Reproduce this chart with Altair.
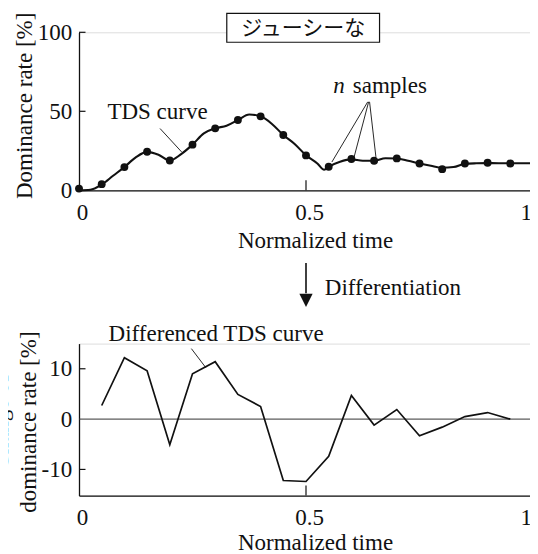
import altair as alt
import pandas as pd

# ---------------- data ----------------
sample_t = [0.00, 0.05, 0.10, 0.15, 0.20, 0.25, 0.30, 0.35, 0.40, 0.45,
            0.50, 0.55, 0.60, 0.65, 0.70, 0.75, 0.80, 0.85, 0.90, 0.95]
sample_rate = [1.1, 3.9, 14.7, 24.4, 18.9, 28.9, 39.2, 44.5, 46.8, 35.0,
               22.1, 14.9, 19.8, 18.7, 20.2, 17.0, 13.4, 17.0, 17.4, 17.0]

curve_t = [0.000, 0.025, 0.050, 0.075, 0.100, 0.125, 0.150, 0.175, 0.200, 0.225,
           0.250, 0.275, 0.300, 0.325, 0.350, 0.375, 0.400, 0.425, 0.450, 0.475,
           0.500, 0.525, 0.540, 0.550, 0.575, 0.600, 0.625, 0.650, 0.675, 0.700,
           0.725, 0.750, 0.775, 0.800, 0.825, 0.850, 0.875, 0.900, 0.950, 1.000]
curve_rate = [0.0, 0.3, 3.6, 9.2, 14.7, 20.8, 24.3, 22.5, 18.9, 22.9,
              28.9, 36.0, 39.2, 40.9, 44.5, 48.0, 46.8, 42.0, 35.0, 29.3,
              22.2, 17.0, 13.0, 14.9, 18.1, 19.6, 18.7, 18.7, 20.3, 20.1,
              18.7, 17.0, 15.5, 14.3, 14.7, 16.8, 17.1, 17.2, 17.1, 17.1]

diff_t = [0.05, 0.10, 0.15, 0.20, 0.25, 0.30, 0.35, 0.40, 0.45, 0.50,
          0.55, 0.60, 0.65, 0.70, 0.75, 0.80, 0.85, 0.90, 0.95]
diff_rate = [2.7, 12.2, 9.6, -5.1, 9.0, 11.4, 4.9, 2.5, -12.2, -12.4,
             -7.4, 4.7, -1.2, 1.9, -3.3, -1.6, 0.5, 1.3, 0.0]

x_tick_labels = [0, 0.5, 1]
x_inner_ticks = [0.5, 1]
top_y_labels = [0, 50, 100]
top_y_inner_ticks = [50, 100]
bottom_y_labels = [-10, 0, 10]
bottom_y_inner_ticks = [-10, 10]

panel_title = "ジューシーな"
x_title = "Normalized time"
top_y_title = "Dominance rate [%]"
bottom_y_title = ["Change of", "dominance rate [%]"]

# annotations (data coordinates)
tds_label = ["TDS curve"]
tds_label_x = [0.173]
tds_label_y = [49.4]
tds_leader_x = [0.1785]
tds_leader_y = [39.1]
tds_leader_x2 = [0.226]
tds_leader_y2 = [24.3]

n_label_x = [0.560]
samples_label_x = [0.603]
samples_label_y = [66.0]
samples_leader_x = [0.636, 0.638, 0.640]
samples_leader_y = [56.0, 56.0, 56.0]
samples_leader_x2 = [0.557, 0.606, 0.654]
samples_leader_y2 = [17.9, 21.1, 21.1]

box_x = [0.3255]
box_x2 = [0.662]
box_y = [93.7]
box_y2 = [112.0]
box_text_x = [0.494]
box_text_y = [102.0]

diff_label = ["Differenced TDS curve"]
diff_label_x = [0.302]
diff_label_y = [16.9]
diff_leader_x = [0.2475]
diff_leader_y = [14.0]
diff_leader_x2 = [0.2795]
diff_leader_y2 = [10.2]

arrow_x = [0.5]
arrow_y_start = [31.0]
arrow_y_end = [25.0]
arrow_head_y = [23.6]
arrow_label = ["Differentiation"]
arrow_label_x = [0.5415]
arrow_label_y = [26.0]

zero_x = [0.0]
zero_x2 = [1.0]
zero_y = [0.0]

# ---------------- style ----------------
W, H1, H2 = 454, 158, 152
SERIF = ("'Liberation Serif', 'Times New Roman', Times, 'Nimbus Roman', 'Noto Serif', "
         "'DejaVu Serif', FreeSerif, serif")
CJK = "'Noto Sans CJK JP', sans-serif"
INK = "#111111"
FS = 23

x_scale = alt.Scale(domain=[0, 1], nice=False, zero=False)
y1_scale = alt.Scale(domain=[0, 100], nice=False, zero=False)
y2_scale = alt.Scale(domain=[-15.2, 15.0], nice=False, zero=False)


def x_axis(title_y):
    return alt.Axis(
        values=x_tick_labels, format="~g", ticks=False, tickSize=0, grid=False,
        domainColor=INK, domainWidth=1.3,
        labelFont=SERIF, labelFontSize=FS, labelColor=INK, labelPadding=22.3,
        labelBaseline="middle", labelFlush=False, labelOverlap=False,
        labelAlign={"condition": {"test": "datum.value == 1", "value": "right"}, "value": "center"},
        labelOffset={"condition": {"test": "datum.value == 1", "value": -1.5}, "value": 3},
        title=x_title, titleFont=SERIF, titleFontSize=FS, titleFontWeight="normal",
        titleColor=INK, titleX=236, titleY=title_y, titleAlign="center", titleBaseline="middle",
    )


def y_axis(values, title, tx, ty):
    return alt.Axis(
        values=values, ticks=False, tickSize=0, grid=False,
        labelExpr="datum.value < 0 ? '-' + abs(datum.value) : '' + datum.value",
        domainColor=INK, domainWidth=1.3,
        labelFont=SERIF, labelFontSize=FS, labelColor=INK, labelPadding=7.3,
        labelBaseline="middle", labelAlign="right", labelFlush=False, labelOverlap=False,
        title=title, titleFont=SERIF, titleFontSize=FS, titleFontWeight="normal",
        titleColor=INK, titleX=tx, titleY=ty, titleAlign="center", titleBaseline="middle",
        titleAngle=270, titleLineHeight=28,
    )


X1 = alt.X("x:Q", scale=x_scale, axis=x_axis(50))
Y1 = alt.Y("y:Q", scale=y1_scale, axis=y_axis(top_y_labels, top_y_title, -55, 73))
X2 = alt.X("x:Q", scale=x_scale, axis=x_axis(47))
Y2 = alt.Y("y:Q", scale=y2_scale, axis=y_axis(bottom_y_labels, bottom_y_title, -78.3, 78))

# ---------------- top panel ----------------
curve = alt.Chart(pd.DataFrame({"x": curve_t, "y": curve_rate})).mark_line(
    color=INK, strokeWidth=2.1, interpolate="monotone").encode(x=X1, y=Y1)
points = alt.Chart(pd.DataFrame({"x": sample_t, "y": sample_rate})).mark_circle(
    color=INK, size=62, opacity=1).encode(x=X1, y=Y1)
top_xt = alt.Chart(pd.DataFrame({"x": x_inner_ticks})).mark_rule(
    color=INK, strokeWidth=1.2).encode(x=X1, y=alt.value(H1), y2=alt.value(H1 - 10))
top_yt = alt.Chart(pd.DataFrame({"y": top_y_inner_ticks})).mark_rule(
    color=INK, strokeWidth=1.2).encode(y=Y1, x=alt.value(0), x2=alt.value(6.5))

tds_text = alt.Chart(pd.DataFrame({"x": tds_label_x, "y": tds_label_y, "t": tds_label})).mark_text(
    font=SERIF, fontSize=FS, color=INK, align="center", baseline="middle").encode(x=X1, y=Y1, text="t:N")
tds_lead = alt.Chart(pd.DataFrame({"x": tds_leader_x, "y": tds_leader_y,
                                   "x2": tds_leader_x2, "y2": tds_leader_y2})).mark_rule(
    color=INK, strokeWidth=0.9).encode(x=X1, y=Y1, x2="x2:Q", y2="y2:Q")

n_text = alt.Chart(pd.DataFrame({"x": n_label_x, "y": samples_label_y, "t": ["n"]})).mark_text(
    font=SERIF, fontSize=FS, color=INK, align="left", baseline="middle", fontStyle="italic").encode(
    x=X1, y=Y1, text="t:N")
s_text = alt.Chart(pd.DataFrame({"x": samples_label_x, "y": samples_label_y, "t": ["samples"]})).mark_text(
    font=SERIF, fontSize=FS, color=INK, align="left", baseline="middle").encode(x=X1, y=Y1, text="t:N")
s_lead = alt.Chart(pd.DataFrame({"x": samples_leader_x, "y": samples_leader_y,
                                 "x2": samples_leader_x2, "y2": samples_leader_y2})).mark_rule(
    color=INK, strokeWidth=0.9).encode(x=X1, y=Y1, x2="x2:Q", y2="y2:Q")

box = alt.Chart(pd.DataFrame({"x": box_x, "x2": box_x2, "y": box_y, "y2": box_y2})).mark_rect(
    fill="white", stroke=INK, strokeWidth=1.2).encode(x=X1, x2="x2:Q", y=Y1, y2="y2:Q")
box_text = alt.Chart(pd.DataFrame({"x": box_text_x, "y": box_text_y, "t": [panel_title]})).mark_text(
    font=CJK, fontSize=21, color=INK, align="center", baseline="middle").encode(x=X1, y=Y1, text="t:N")

top = alt.layer(curve, points, top_xt, top_yt, tds_lead, tds_text, s_lead, n_text, s_text,
                box, box_text).properties(width=W, height=H1)

# ---------------- bottom panel ----------------
zero = alt.Chart(pd.DataFrame({"x": zero_x, "x2": zero_x2, "y": zero_y})).mark_rule(
    color="#333333", strokeWidth=1).encode(x=X2, x2="x2:Q", y=Y2)
dline = alt.Chart(pd.DataFrame({"x": diff_t, "y": diff_rate})).mark_line(
    color=INK, strokeWidth=1.7).encode(x=X2, y=Y2)
bot_xt = alt.Chart(pd.DataFrame({"x": x_inner_ticks})).mark_rule(
    color=INK, strokeWidth=1.2).encode(x=X2, y=alt.value(H2), y2=alt.value(H2 - 10))
bot_yt = alt.Chart(pd.DataFrame({"y": bottom_y_inner_ticks})).mark_rule(
    color=INK, strokeWidth=1.2).encode(y=Y2, x=alt.value(0), x2=alt.value(6.5))
d_text = alt.Chart(pd.DataFrame({"x": diff_label_x, "y": diff_label_y, "t": diff_label})).mark_text(
    font=SERIF, fontSize=FS, color=INK, align="center", baseline="middle").encode(x=X2, y=Y2, text="t:N")
d_lead = alt.Chart(pd.DataFrame({"x": diff_leader_x, "y": diff_leader_y,
                                 "x2": diff_leader_x2, "y2": diff_leader_y2})).mark_rule(
    color=INK, strokeWidth=0.9).encode(x=X2, y=Y2, x2="x2:Q", y2="y2:Q")
a_line = alt.Chart(pd.DataFrame({"x": arrow_x, "y": arrow_y_start, "y2": arrow_y_end})).mark_rule(
    color=INK, strokeWidth=1.6).encode(x=X2, y=Y2, y2="y2:Q")
a_head = alt.Chart(pd.DataFrame({"x": arrow_x, "y": arrow_head_y})).mark_point(
    shape="M-1,-1L1,-1L0,1Z", filled=True, color=INK, size=175, opacity=1).encode(x=X2, y=Y2)
a_text = alt.Chart(pd.DataFrame({"x": arrow_label_x, "y": arrow_label_y, "t": arrow_label})).mark_text(
    font=SERIF, fontSize=FS, color=INK, align="left", baseline="middle").encode(x=X2, y=Y2, text="t:N")

bottom = alt.layer(zero, dline, bot_xt, bot_yt, d_lead, d_text, a_line, a_head, a_text).properties(
    width=W, height=H2)

chart = alt.vconcat(top, bottom, spacing=153.3, bounds="flush").properties(
    autosize=alt.AutoSizeParams(type="none"),
    padding={"left": 71, "top": 24.3, "right": -3, "bottom": 521.7},
).configure_view(stroke=None).configure(font=SERIF)

chart.save("out.html", embed_options={"renderer": "svg", "actions": False})
